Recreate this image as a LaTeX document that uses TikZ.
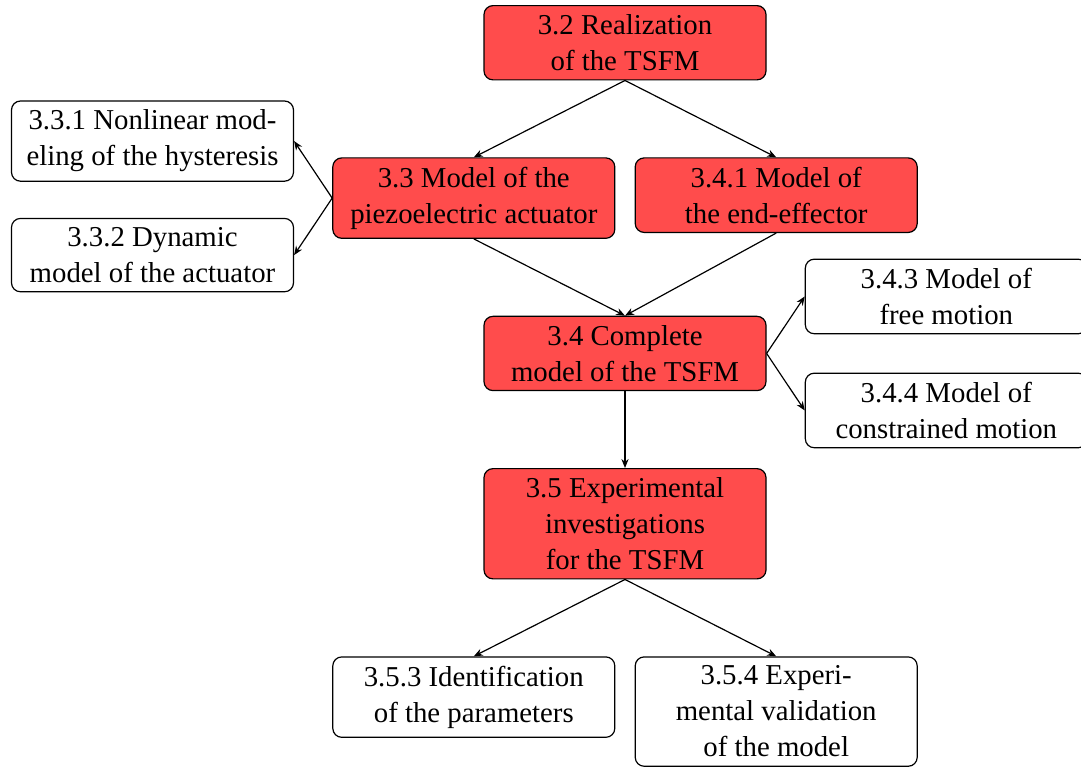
\documentclass[tikz,border=0pt]{standalone}
\usepackage{fontspec}
\setmainfont{Liberation Serif}
\usepackage{tikz}
\usetikzlibrary{arrows.meta,positioning}

\begin{document}
\begin{tikzpicture}[
    font=\fontsize{9.6pt}{12pt}\selectfont,
    node distance=0.9cm,
    secbox/.style={
      draw,
      rounded corners=3pt,
      align=flush center,
      text width=90pt,
      inner xsep=2pt,
      inner ysep=3pt,
      fill=red!70
    },
    subbox/.style={secbox, fill=white},
    flow/.style={-{Stealth[length=3pt,width=2.4pt]}}
  ]
    \useasboundingbox (0,0) rectangle (360.33pt,-256.33pt);
    \node[secbox, anchor=north] (n32) at (208.33pt,-1.67pt) {
      3.2 Realization\\of the TSFM
    };
    \node[secbox, below=of n32, xshift=-50.4pt] (n33) {
      3.3 Model of the\\piezoelectric actuator
    };
    \node[secbox, below=of n32, xshift=50.4pt] (n341) {
      3.4.1 Model of\\the end-effector
    };
    \node[secbox, below=of n33, xshift=50.4pt] (n34) {
      3.4 Complete\\model of the TSFM
    };
    \node[secbox, below=of n34] (n35) {
      3.5 Experimental\\investigations\\for the TSFM
    };
    \node[subbox, left=12.7pt of n33, yshift=19pt] (n331) {
      3.3.1 Nonlinear mod-\\eling of the hysteresis
    };
    \node[subbox, left=12.7pt of n33, yshift=-19pt] (n332) {
      3.3.2 Dynamic\\model of the actuator
    };
    \node[subbox, right=12.7pt of n34, yshift=19pt] (n343) {
      3.4.3 Model of\\free motion
    };
    \node[subbox, right=12.7pt of n34, yshift=-19pt] (n344) {
      3.4.4 Model of\\constrained motion
    };
    \node[subbox, below=of n35, xshift=-50.4pt] (n353) {
      3.5.3 Identification\\of the parameters
    };
    \node[subbox, below=of n35, xshift=50.4pt] (n354) {
      3.5.4 Experi-\\mental validation\\of the model
    };
    \draw[flow] (n32.south) -- (n33.north);
    \draw[flow] (n32.south) -- (n341.north);
    \draw[flow] (n33.west) -- (n331.east);
    \draw[flow] (n33.west) -- (n332.east);
    \draw[flow] (n33.south) -- (n34.north);
    \draw[flow] (n341.south) -- (n34.north);
    \draw[flow] (n34.east) -- (n343.west);
    \draw[flow] (n34.east) -- (n344.west);
    \draw[flow] (n34) -- (n35);
    \draw[flow] (n35.south) -- (n353.north);
    \draw[flow] (n35.south) -- (n354.north);
  \end{tikzpicture}
\end{document}
